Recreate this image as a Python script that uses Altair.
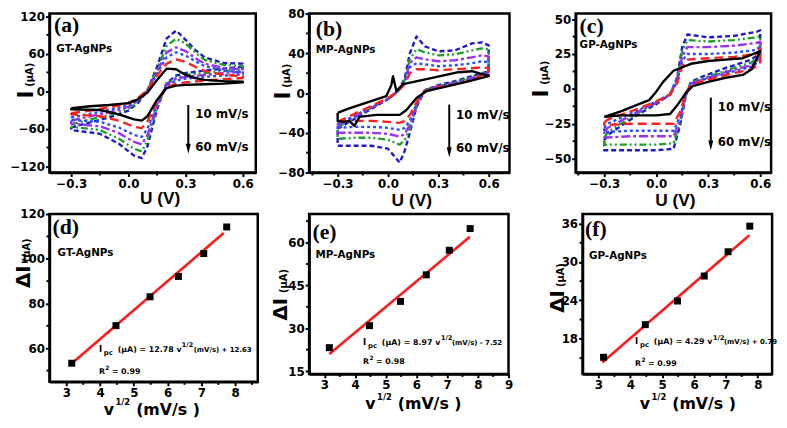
import altair as alt
import pandas as pd

FONT = "DejaVu Sans"
SANS = "Liberation Sans"
SERIF = "Liberation Serif"

# drawing order: 60 mV/s first, 10 mV/s (black) last
RATES = ["60", "50", "40", "30", "20", "10"]
COLORS = {"10": "#000000", "20": "#ff1f1f", "30": "#2a4bff", "40": "#9b30f0",
          "50": "#1e9e2a", "60": "#1b1bc9"}
DASHES = {"10": None, "20": [9, 5], "30": [3, 3], "40": [9, 3, 3, 3],
          "50": [7, 3, 2, 3, 2, 3], "60": [5, 3]}

# ---------------- (a) GT-AgNPs cyclic voltammograms ----------------
A_U_FWD = [-0.30, -0.20, -0.10, 0.00, 0.05, 0.10, 0.15, 0.20, 0.25, 0.30, 0.35, 0.40, 0.50, 0.60]
A_U_REV = [0.60, 0.50, 0.40, 0.30, 0.25, 0.20, 0.15, 0.10, 0.07, 0.03, -0.05, -0.15, -0.30]
A_FWD = {
    "10": [-27, -24, -22, -19, -13, -2, 18, 36, 35, 26, 21, 18, 16, 15],
    "20": [-35, -31, -26, -19, -11, 2, 25, 44, 51, 47, 39, 32, 26, 24],
    "30": [-42, -36, -30, -22, -13, 1, 28, 54, 62, 57, 48, 40, 33, 30],
    "40": [-47, -40, -34, -25, -15, 1, 31, 62, 70, 64, 53, 44, 37, 35],
    "50": [-53, -45, -38, -28, -17, 1, 35, 72, 84, 76, 62, 50, 42, 40],
    "60": [-58, -50, -42, -31, -19, 1, 39, 84, 97, 82, 66, 54, 45, 44],
}
A_REV = {
    "10": [14, 12, 11, 10, 9, 5, -14, -40, -47, -45, -37, -30, -29],
    "20": [21, 19, 17, 14, 12, 6, -16, -48, -59, -57, -47, -40, -37],
    "30": [27, 25, 23, 20, 17, 9, -20, -60, -73, -70, -58, -49, -46],
    "40": [31, 29, 26, 23, 20, 11, -23, -70, -85, -81, -67, -56, -52],
    "50": [35, 32, 29, 26, 22, 12, -26, -79, -96, -92, -76, -62, -57],
    "60": [39, 36, 33, 29, 25, 13, -29, -88, -107, -103, -84, -68, -62],
}

# ---------------- (b) MP-AgNPs ----------------
B_U_FWD = [-0.30, -0.20, -0.10, 0.00, 0.06, 0.10, 0.13, 0.17, 0.22, 0.30, 0.40, 0.50, 0.56, 0.60]
B_U_REV = [0.60, 0.50, 0.40, 0.30, 0.22, 0.17, 0.13, 0.10, 0.07, 0.00, -0.10, -0.20, -0.30]
B_BLACK_U_FWD = [-0.30, -0.24, -0.10, -0.01, 0.02, 0.03, 0.05, 0.09, 0.23, 0.42, 0.50, 0.58, 0.60]
B_BLACK_U_REV = [0.60, 0.46, 0.23, 0.17, 0.11, 0.07, -0.07, -0.17, -0.20, -0.23, -0.26, -0.30]
B_FWD = {
    "10": [-20, -16, -8, -3, 8, 17, 2, 9, 14, 21, 22, 18, 18],
    "20": [-29, -21, -13, -5, 2, 9, 20, 24, 24, 23, 24, 25, 26, 25],
    "30": [-31, -23, -14, -6, 2, 11, 26, 30, 29, 27, 28, 30, 32, 31],
    "40": [-32, -24, -15, -6, 2, 12, 30, 36, 34, 32, 33, 36, 38, 37],
    "50": [-34, -25, -15, -6, 2, 13, 34, 44, 41, 38, 39, 43, 45, 44],
    "60": [-36, -26, -16, -6, 2, 15, 40, 57, 47, 42, 43, 50, 51, 48],
}
B_REV = {
    "10": [17, 11, 2, -5, -17, -22, -22, -24, -33, -28, -29, -28],
    "20": [22, 13, 9, 6, 2, -9, -22, -28, -30, -29, -28, -28, -29],
    "30": [20, 14, 10, 6, 3, -11, -28, -35, -37, -35, -34, -34, -35],
    "40": [21, 15, 10, 7, 3, -12, -32, -41, -44, -41, -40, -40, -40],
    "50": [22, 16, 11, 7, 3, -13, -36, -47, -52, -47, -45, -45, -46],
    "60": [22, 17, 12, 8, 3, -14, -40, -58, -70, -56, -53, -53, -53],
}

# ---------------- (c) GP-AgNPs ----------------
C_U_FWD = [-0.30, -0.28, -0.10, 0.00, 0.08, 0.12, 0.15, 0.18, 0.30, 0.45, 0.58, 0.60]
C_U_REV = [0.60, 0.55, 0.40, 0.25, 0.20, 0.17, 0.14, 0.10, 0.00, -0.15, -0.30]
C_BLACK_U_FWD = [-0.30, -0.20, -0.10, -0.04, 0.00, 0.04, 0.10, 0.20, 0.30, 0.40, 0.50, 0.60]
C_BLACK_U_REV = [0.60, 0.55, 0.50, 0.40, 0.30, 0.21, 0.17, 0.12, 0.08, 0.00, -0.10, -0.20, -0.30]
C_FWD = {
    "10": [-20, -16, -11, -8, -2, 5, 13, 18, 20, 21, 22, 27],
    "20": [-24, -22, -14, -9, -4, 4, 16, 21, 22, 23, 25, 29],
    "30": [-28, -25, -15, -9, -4, 5, 20, 25, 25, 26, 28, 31],
    "40": [-31, -28, -16, -10, -4, 6, 23, 30, 30, 31, 33, 34],
    "50": [-35, -31, -17, -10, -4, 7, 27, 35, 34, 35, 37, 38],
    "60": [-37, -33, -18, -11, -4, 8, 30, 39, 37, 38, 41, 42],
}
C_REV = {
    "10": [27, 14, 10, 8, 5, 2, -3, -12, -18, -19, -19, -19, -20],
    "20": [18, 14, 10, 5, 3, -3, -16, -25, -25, -25, -26],
    "30": [20, 16, 11, 6, 3, -4, -19, -30, -30, -30, -31],
    "40": [22, 17, 12, 6, 4, -4, -21, -34, -34, -34, -35],
    "50": [24, 19, 13, 7, 4, -5, -23, -39, -40, -40, -40],
    "60": [26, 21, 15, 8, 5, -5, -25, -43, -44, -44, -44],
}

# ---------------- (d)(e)(f) peak current vs sqrt(scan rate) ----------------
SQRT_V = [3.16, 4.47, 5.48, 6.32, 7.07, 7.75]
D_DI = [53.3, 70.1, 83.0, 92.1, 102.3, 114.2]
D_FIT_X = [3.14, 7.66]
D_FIT_Y = [53.0, 111.5]
E_DI = [23.2, 30.9, 39.4, 48.7, 57.3, 64.9]
E_FIT_X = [3.16, 7.74]
E_FIT_Y = [21.0, 62.0]
F_DI = [15.1, 20.2, 23.9, 27.8, 31.6, 35.6]
F_FIT_X = [3.12, 7.74]
F_FIT_Y = [14.3, 34.2]

D_EQ = ["(μA) = 12.78 v", "(mV/s) + 12.63", "= 0.99"]
E_EQ = ["(μA) = 8.97 v", "(mV/s) - 7.52", "= 0.98"]
F_EQ = ["(μA) = 4.29 v", "(mV/s) + 0.79", "= 0.99"]


def axis(vals, fmt, pad):
    return alt.Axis(values=vals, format=fmt, title=None, grid=False, ticks=True, tickSize=4,
                    tickWidth=2, tickColor="black", domain=True, domainColor="black",
                    domainWidth=2.5, labelFont=FONT, labelFontWeight="bold", labelFontSize=12,
                    labelColor="black", labelPadding=pad, labelFlush=False, labelOverlap=False)


def make_xy(xdom, ydom, xvals, yvals, xfmt, yfmt):
    X = alt.X("x:Q", scale=alt.Scale(domain=xdom, nice=False, zero=False), axis=axis(xvals, xfmt, 2))
    Y = alt.Y("y:Q", scale=alt.Scale(domain=ydom, nice=False, zero=False), axis=axis(yvals, yfmt, 1))
    return X, Y


def minor_ticks(X, Y, xminor, yminor, h):
    mx = alt.Chart(pd.DataFrame({"x": xminor})).mark_rule(color="black", strokeWidth=2).encode(
        x=X, y=alt.value(h), y2=alt.value(h + 3))
    my = alt.Chart(pd.DataFrame({"y": yminor})).mark_rule(color="black", strokeWidth=2).encode(
        y=Y, x=alt.value(-3), x2=alt.value(0))
    return [mx, my]


def text_data(X, Y, x, y, txt, size, font=FONT, align="left", baseline="middle", dx=0, dy=0):
    df = pd.DataFrame({"x": [x], "y": [y], "t": [txt]})
    return alt.Chart(df).mark_text(font=font, fontSize=size, fontWeight="bold", align=align,
                                   baseline=baseline, dx=dx, dy=dy, color="black").encode(
        x=X, y=Y, text="t:N")


def text_px(px, py, txt, size, font=FONT, angle=0, align="left", baseline="alphabetic"):
    kw = dict(font=font, fontSize=size, fontWeight="bold", align=align, baseline=baseline,
              color="black")
    if angle:
        kw["angle"] = angle
    return alt.Chart(pd.DataFrame({"t": [txt]})).mark_text(**kw).encode(
        x=alt.value(px), y=alt.value(py), text="t:N")


def cv_curves(X, Y, u_fwd, u_rev, fwd, rev, black_u):
    layers = []
    for r in RATES:
        uf, ur = black_u if (r == "10" and black_u) else (u_fwd, u_rev)
        xs = list(uf) + list(ur) + [uf[0]]
        ys = list(fwd[r]) + list(rev[r]) + [fwd[r][0]]
        df = pd.DataFrame({"x": xs, "y": ys, "k": list(range(len(xs)))})
        kw = dict(color=COLORS[r], strokeWidth=2.4, strokeCap="butt", strokeJoin="round")
        if DASHES[r]:
            kw["strokeDash"] = DASHES[r]
        layers.append(alt.Chart(df).mark_line(**kw).encode(x=X, y=Y, order="k:Q"))
    return layers


X_MAJ = [-0.3, 0.0, 0.3, 0.6]


def cv_panel(w, h, xdom, ydom, yvals, yminor, xminor, u_fwd, u_rev, fwd, rev, black_u,
             letter, letter_xy, name, name_xy, arrow_x, arrow_y, head_y, lab_x, lab_y,
             ybx, yI, yU, xt_c, xt_b):
    X, Y = make_xy(xdom, ydom, X_MAJ, yvals, ".1f", "d")
    layers = minor_ticks(X, Y, xminor, yminor, h)
    layers += cv_curves(X, Y, u_fwd, u_rev, fwd, rev, black_u)
    layers.append(text_data(X, Y, letter_xy[0], letter_xy[1], letter, 22, font=SERIF))
    layers.append(text_data(X, Y, name_xy[0], name_xy[1], name, 10.5))
    adf = pd.DataFrame({"x": [arrow_x], "y": [arrow_y[0]], "y2": [arrow_y[1]]})
    layers.append(alt.Chart(adf).mark_rule(color="black", strokeWidth=2).encode(x=X, y=Y, y2="y2:Q"))
    hdf = pd.DataFrame({"x": [arrow_x], "y": [head_y]})
    layers.append(alt.Chart(hdf).mark_point(shape="M-0.5,-1L0.5,-1L0,1Z", filled=True, size=100,
                                             color="black", opacity=1).encode(x=X, y=Y))
    layers.append(text_data(X, Y, lab_x, lab_y[0], "10 mV/s", 12))
    layers.append(text_data(X, Y, lab_x, lab_y[1], "60 mV/s", 12))
    layers.append(text_px(ybx, yI, "I", 22, angle=270))
    layers.append(text_px(ybx, yU, "(μA)", 10, angle=270))
    layers.append(text_px(xt_c, h + xt_b, "U (V)", 17.5, font=SANS, align="center"))
    return alt.layer(*layers).properties(width=w, height=h)


def lin_panel(w, h, xdom, ydom, xvals, xminor, yvals, yminor, di, fit_x, fit_y,
              letter, letter_xy, name, name_xy, eq_xy, r2_xy, eq, eq_dx,
              ybx, yD, yU, xt_x, xt_b, xt_fs):
    X, Y = make_xy(xdom, ydom, xvals, yvals, "d", "d")
    layers = minor_ticks(X, Y, xminor, yminor, h)
    fdf = pd.DataFrame({"x": fit_x, "y": fit_y})
    layers.append(alt.Chart(fdf).mark_line(color="#ff1a1a", strokeWidth=2.6).encode(x=X, y=Y))
    pdf = pd.DataFrame({"x": SQRT_V, "y": di})
    layers.append(alt.Chart(pdf).mark_square(size=50, color="black", opacity=1).encode(x=X, y=Y))
    layers.append(text_data(X, Y, letter_xy[0], letter_xy[1], letter, 22, font=SERIF))
    layers.append(text_data(X, Y, name_xy[0], name_xy[1], name, 10.5))
    ex, ey = eq_xy
    segs = [("I", 0, 0, 8.5), ("pc", 5, 3, 7), (eq[0], 19, 0, 8),
            ("1/2", eq_dx[0], -5, 6.5), (eq[1], eq_dx[1], 0, 7)]
    for t, dx, dy, fs in segs:
        layers.append(text_data(X, Y, ex, ey, t, fs, baseline="alphabetic", dx=dx, dy=dy))
    rx, ry = r2_xy
    for t, dx, dy, fs in [("R", 0, 0, 8), ("2", 6.5, -4, 6), (eq[2], 13, 0, 8)]:
        layers.append(text_data(X, Y, rx, ry, t, fs, baseline="alphabetic", dx=dx, dy=dy))
    layers.append(text_px(ybx, yD, "ΔI", 20, angle=270))
    layers.append(text_px(ybx, yU, "(μA)", 10, angle=270))
    layers.append(text_px(xt_x, h + xt_b, "v", xt_fs))
    layers.append(text_px(xt_x + 0.74 * xt_fs, h + xt_b - 10, "1/2", 8.5))
    layers.append(text_px(xt_x + 2.05 * xt_fs, h + xt_b, "(mV/s )", xt_fs))
    return alt.layer(*layers).properties(width=w, height=h)


H1 = 161
pa = cv_panel(209, H1, [-0.414, 0.668], [-130, 124], [-120, -60, 0, 60, 120], [-90, -30, 30, 90],
              [-0.15, 0.15, 0.45], A_U_FWD, A_U_REV, A_FWD, A_REV, None,
              "(a)", (-0.39, 106), "GT-AgNPs", (-0.378, 68), 0.314, (-22, -92), -92,
              0.35, (-36, -90), -16.5, 86, 74, 112, 32)
pb = cv_panel(203, H1, [-0.47, 0.724], [-80, 80], [-80, -40, 0, 40, 80], [-60, -20, 20, 60],
              [-0.45, -0.15, 0.15, 0.45], B_U_FWD, B_U_REV, B_FWD, B_REV,
              (B_BLACK_U_FWD, B_BLACK_U_REV),
              "(b)", (-0.43, 64), "MP-AgNPs", (-0.43, 43), 0.365, (-11.6, -59.6), -59.6,
              0.406, (-22, -55), -19, 87, 75, 104, 34)
pc = cv_panel(198, H1, [-0.465, 0.663], [-60, 54], [-50, -25, 0, 25, 50],
              [-37.5, -12.5, 12.5, 37.5], [-0.45, -0.15, 0.15, 0.45], C_U_FWD, C_U_REV,
              C_FWD, C_REV, (C_BLACK_U_FWD, C_BLACK_U_REV),
              "(c)", (-0.442, 45), "GP-AgNPs", (-0.442, 31.5), 0.315, (-6.2, -40.5), -40.5,
              0.355, (-13, -38), -27.5, 85, 72, 101, 34)

pd_ = lin_panel(211, 170, [2.5, 8.67], [45, 120], [3, 4, 5, 6, 7, 8],
                [3.5, 4.5, 5.5, 6.5, 7.5, 8.5], [60, 80, 100, 120], [50, 70, 90, 110],
                D_DI, D_FIT_X, D_FIT_Y, "(d)", (2.59, 114), "GT-AgNPs", (2.74, 102.7),
                (3.965, 58.2), (3.965, 48.4), D_EQ, (84, 96), -19.5, 75, 49, 55, 33.5, 16)
pe = lin_panel(202, 162, [2.5, 9.0], [14, 70], [3, 4, 5, 6, 7, 8, 9],
               [3.5, 4.5, 5.5, 6.5, 7.5, 8.5], [15, 30, 45, 60], [22.5, 37.5, 52.5, 67.5],
               E_DI, E_FIT_X, E_FIT_Y, "(e)", (2.61, 63.7), "MP-AgNPs", (2.71, 55.6),
               (4.26, 24.2), (4.26, 17.4), E_EQ, (79, 90), -22.5, 108, 80, 57, 36, 16)
pf = lin_panel(192, 162, [2.5, 8.45], [12.5, 37.5], [3, 4, 5, 6, 7, 8],
               [3.5, 4.5, 5.5, 6.5, 7.5], [18, 24, 30, 36], [15, 21, 27, 33],
               F_DI, F_FIT_X, F_FIT_Y, "(f)", (2.58, 35.1), "GP-AgNPs", (2.7, 30.9),
               (4.15, 17.1), (4.15, 13.8), F_EQ, (79, 90), -18.5, 100, 74, 58, 36, 16)

row1 = alt.hconcat(pa, alt.hconcat(pb, pc, spacing=67, bounds="flush"), spacing=54, bounds="flush")
row2 = alt.hconcat(pd_, alt.hconcat(pe, pf, spacing=75, bounds="flush"), spacing=52, bounds="flush")
chart = alt.vconcat(row1, row2, spacing=-5).properties(
    padding={"left": 0, "top": -5, "right": 0, "bottom": -2},
    background="white").configure_view(stroke="black", strokeWidth=2.5)

chart.save("out.html", embed_options={"renderer": "svg", "actions": False})
